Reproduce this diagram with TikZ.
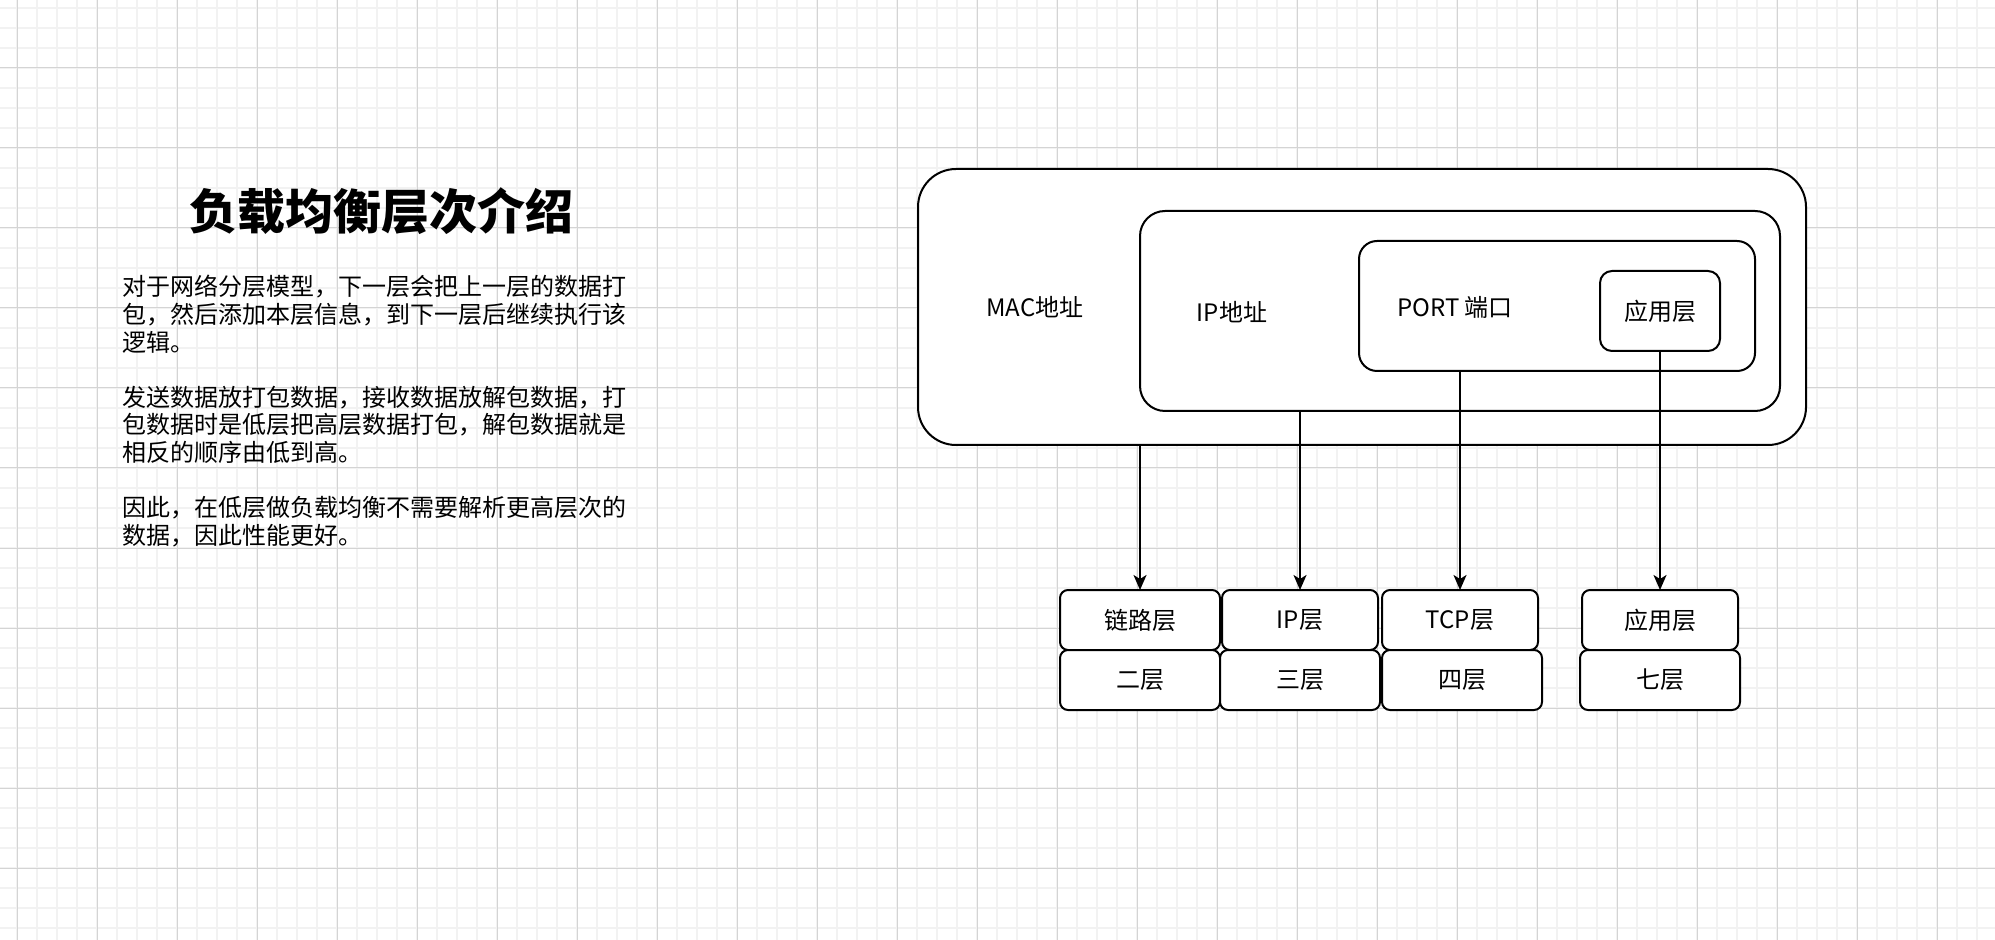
\documentclass[tikz,border=0pt]{standalone}
\usepackage{fontspec}
\setmainfont{Noto Sans CJK SC}
\usetikzlibrary{arrows.meta, positioning}
\definecolor{minorgrid}{RGB}{242,242,242}
\definecolor{majorgrid}{RGB}{212,212,212}

\begin{document}
\begin{tikzpicture}[
        x=0.5pt, y=-0.5pt,
        zone/.style={rectangle, draw=black, line width=1pt, fill=white, outer sep=0pt, inner sep=0pt, font=\fontsize{12}{14}\selectfont},
        cell/.style={rectangle, draw=black, line width=1pt, fill=white, outer sep=0pt, inner sep=0pt, rounded corners=4pt, minimum height=30pt, font=\fontsize{12}{14}\selectfont},
        link/.style={-{Stealth[length=7.5pt, width=6.5pt, inset=2pt]}, line width=1pt, draw=black},
        tag/.style={font=\fontsize{12}{14}\selectfont, inner sep=0pt}
    ]
        \useasboundingbox (0,0) rectangle (1995,940);
        \fill[white] (0,0) rectangle (1995,940);
        % background grid
        \foreach \gx in {17,37,...,1977} \draw[minorgrid, line width=1pt] (\gx,0) -- (\gx,940);
        \foreach \gy in {8,28,...,928} \draw[minorgrid, line width=1pt] (0,\gy) -- (1995,\gy);
        \foreach \gx in {17,97,...,1937} \draw[majorgrid, line width=0.5pt] (\gx,0) -- (\gx,940);
        \foreach \gy in {68,148,...,868} \draw[majorgrid, line width=0.5pt] (0,\gy) -- (1995,\gy);

        % left text
        \node[tag, font=\fontsize{24}{28}\selectfont\bfseries] (title) at (381,211) {负载均衡层次介绍};
        \node[tag, anchor=north west, align=left, font=\fontsize{12}{13.8}\selectfont] (intro) at (122,275) {对于网络分层模型，下一层会把上一层的数据打\\包，然后添加本层信息，到下一层后继续执行该\\逻辑。\\[13.8pt]发送数据放打包数据，接收数据放解包数据，打\\包数据时是低层把高层数据打包，解包数据就是\\相反的顺序由低到高。\\[13.8pt]因此，在低层做负载均衡不需要解析更高层次的\\数据，因此性能更好。};

        % nested headers
        \node[zone, minimum width=444pt, minimum height=138pt, rounded corners=19pt] (mac) at (1362,307) {};
        \node[zone, minimum width=320pt, minimum height=100pt, rounded corners=12.5pt] (ip) at (1460,311) {};
        \node[zone, minimum width=198pt, minimum height=65pt, rounded corners=9pt] (port) at (1557,306) {};
        \node[zone, minimum width=60pt, minimum height=40pt, rounded corners=6pt] (app) at (1660,311) {应用层};
        \node[tag] (macname) at (1035,307) {MAC地址};
        \node[tag] (ipname) at (1232,312) {IP地址};
        \node[tag] (portname) at (1455,307) {PORT 端口};

        % layer cells
        \node[cell, minimum width=80pt] (lnk) at (1140,620) {链路层};
        \node[cell, minimum width=80pt] (l2) at (1140,680) {二层};
        \node[cell, minimum width=78pt] (ipl) at (1300,620) {IP层};
        \node[cell, minimum width=80pt] (l3) at (1300,680) {三层};
        \node[cell, minimum width=78pt] (tcp) at (1460,620) {TCP层};
        \node[cell, minimum width=80pt] (l4) at (1462,680) {四层};
        \node[cell, minimum width=78pt] (appl) at (1660,620) {应用层};
        \node[cell, minimum width=80pt] (l7) at (1660,680) {七层};

        \draw[link] (mac.south -| lnk.north) -- (lnk.north);
        \draw[link] (ip.south -| ipl.north) -- (ipl.north);
        \draw[link] (port.south -| tcp.north) -- (tcp.north);
        \draw[link] (app.south) -- (appl.north);
    \end{tikzpicture}
\end{document}
